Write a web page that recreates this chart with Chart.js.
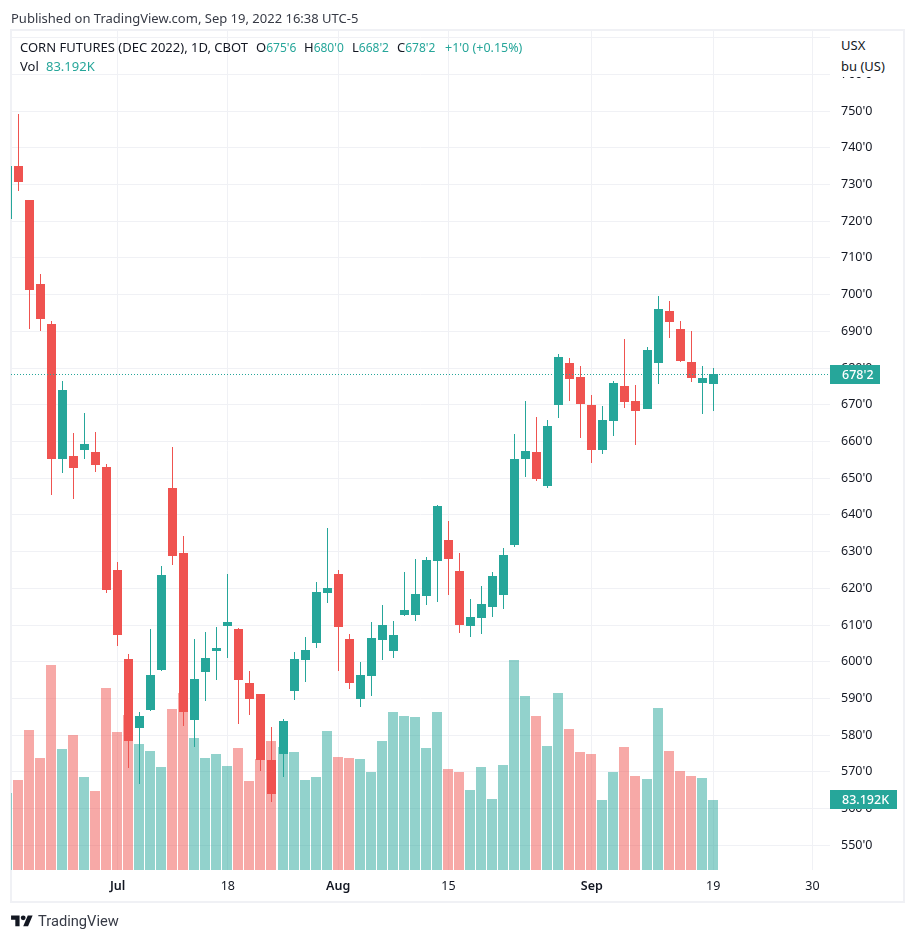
<!DOCTYPE html>
<html>
<head>
<meta charset="utf-8">
<title>CORN FUTURES (DEC 2022)</title>
<script src="https://cdn.jsdelivr.net/npm/chart.js@4/dist/chart.umd.min.js"></script>
<style>
  html, body { margin: 0; padding: 0; background: #fff; }
  #wrap { position: relative; width: 915px; height: 941px; overflow: hidden; font-family: "Noto Sans", sans-serif; color: #131722; }
  #chart { position: absolute; left: 0; top: 0; }
  .t { position: absolute; font-size: 13px; line-height: 18px; white-space: nowrap; }
  .up { color: #26a69a; }
  .val { font-size: 12px; }
  #axisHead { position: absolute; left: 832px; top: 31px; width: 70px; height: 46px; background: #fff; }
  #logoText { position: absolute; left: 38px; top: 909px; font-family: Roboto, sans-serif; font-size: 14.7px; line-height: 24px; color: #363a45; }
</style>
</head>
<body>
<div id="wrap">
  <canvas id="chart" width="915" height="941"></canvas>

  <div class="t" style="left:11px;top:9px;color:#363a45">Published on TradingView.com, Sep 19, 2022 16:38 UTC-5</div>

  <div class="t" style="left:20px;top:38px">CORN FUTURES (DEC 2022), 1D, CBOT</div>
  <div class="t" style="left:256px;top:38px">O<span class="up val">675'6</span></div>
  <div class="t" style="left:304px;top:38px">H<span class="up val">680'0</span></div>
  <div class="t" style="left:352px;top:38px">L<span class="up val">668'2</span></div>
  <div class="t" style="left:397px;top:38px">C<span class="up val">678'2</span></div>
  <div class="t" style="left:445px;top:38px"><span class="up" style="font-size:12.5px">+1'0 (+0.15%)</span></div>
  <div class="t" style="left:20px;top:57px">Vol</div>
  <div class="t up" style="left:46px;top:57px">83.192K</div>

  <div id="axisHead">
    <div class="t" style="left:9px;top:5px">USX</div>
    <div class="t" style="left:9px;top:26px">bu (US)</div>
  </div>

  <svg style="position:absolute;left:11px;top:913px" width="22" height="17" viewBox="0 0 36 28" fill="#131722">
    <path d="M14 22H7V11H0V4h14v18zM28 22h-8l7.5-18h8L28 22z"></path>
    <circle cx="20" cy="8" r="4"></circle>
  </svg>
  <div id="logoText">TradingView</div>
</div>

<script>
/* =============================================
   DATA (first entry is the clipped candle at the left edge)
   ============================================= */
const opens = [720.7, 735.0, 725.8, 702.9, 692.0, 655.2, 656.0, 657.7, 657.1, 653.0, 625.0, 600.7, 581.9, 586.9, 597.7, 647.3,
  629.6, 584.1, 597.2, 602.9, 609.7, 608.9, 594.2, 591.2, 573.2, 574.9, 592.0, 600.5, 605.1, 618.7, 623.9, 606.2,
  589.8, 596.1, 605.9, 602.9, 612.7, 612.7, 617.9, 627.4, 633.2, 624.7, 609.7, 611.9, 614.9, 618.2, 631.8, 655.2,
  657.1, 647.9, 669.9, 681.4, 677.6, 669.9, 657.7, 665.6, 675.1, 671.0, 668.8, 681.4, 695.5, 690.6, 681.6, 675.9, 675.75];
const highs = [735.0, 749.2, 725.8, 705.6, 692.8, 676.5, 662.3, 667.7, 662.6, 653.9, 627.2, 602.1, 586.3, 608.9, 626.1, 658.5,
  634.2, 606.2, 608.1, 609.5, 623.9, 609.2, 597.5, 591.2, 582.2, 584.4, 602.6, 606.7, 621.7, 636.4, 625.0, 607.6,
  599.9, 610.8, 615.4, 611.1, 624.4, 628.0, 628.5, 642.7, 638.3, 629.6, 617.1, 620.6, 624.4, 631.0, 662.0, 671.0,
  666.7, 665.8, 683.8, 682.7, 680.5, 672.6, 669.6, 676.5, 687.9, 675.4, 685.7, 699.6, 698.2, 692.8, 690.1, 680.5, 680.0];
const lows = [720.7, 728.3, 690.6, 690.2, 645.4, 651.5, 644.4, 655.2, 651.7, 618.7, 604.3, 571.0, 566.7, 586.6, 597.5, 626.3,
  582.5, 576.8, 589.3, 595.0, 601.0, 583.0, 585.5, 570.2, 561.8, 568.6, 589.6, 594.5, 603.7, 616.0, 597.5, 592.6,
  587.7, 590.7, 600.5, 601.0, 612.5, 611.1, 615.4, 616.3, 618.2, 607.8, 606.7, 607.6, 612.2, 614.4, 631.3, 650.3,
  649.2, 647.3, 666.4, 671.0, 660.9, 654.1, 656.6, 661.5, 669.1, 659.0, 668.8, 675.6, 688.2, 681.6, 676.2, 667.5, 668.25];
const closes = [735.0, 730.7, 701.3, 693.3, 655.2, 674.0, 652.8, 659.3, 653.6, 619.6, 607.3, 578.4, 585.2, 596.4, 623.6, 628.8,
  586.3, 595.3, 601.0, 603.7, 610.8, 595.0, 589.8, 573.2, 564.0, 583.9, 600.7, 603.2, 619.0, 620.1, 609.5, 594.2,
  596.4, 606.5, 610.0, 607.3, 614.1, 618.4, 627.7, 642.4, 628.0, 610.0, 612.2, 615.7, 623.3, 629.1, 655.2, 657.4,
  649.8, 664.2, 683.0, 677.0, 670.2, 657.7, 665.8, 675.9, 670.7, 668.3, 684.9, 696.1, 692.5, 681.9, 677.3, 677.3, 678.25];
// volume in thousands of contracts
const volumes = [91.2, 107.0, 166.4, 133.1, 243.6, 143.8, 160.4, 110.5, 93.9, 216.3, 164.0, 184.2, 149.8, 141.4, 122.4, 191.3,
  210.4, 156.9, 133.1, 137.9, 123.6, 145.0, 105.8, 131.6, 153.3, 146.2, 140.2, 107.0, 110.5, 165.2, 134.3, 133.1,
  131.9, 116.5, 153.3, 187.8, 183.0, 181.8, 145.0, 187.8, 120.0, 116.5, 95.1, 122.4, 84.4, 124.8, 249.6, 206.8,
  183.0, 147.4, 210.4, 167.6, 140.2, 137.9, 83.2, 116.5, 146.2, 111.7, 108.2, 192.5, 141.4, 117.7, 111.7, 109.3, 83.192];

const xTickValues = [10, 20, 30, 40, 53, 64, 73];
const xTickLabels = ['Jul', '18', 'Aug', '15', 'Sep', '19', '30'];
const xTickBold = ['Jul', 'Aug', 'Sep'];
const yTickValues = [550, 560, 570, 580, 590, 600, 610, 620, 630, 640, 650, 660, 670, 680, 690, 700, 710, 720, 730, 740, 750, 760, 770];

const lastPrice = 678.25;
const lastPriceLabel = "678'2";
const lastVolume = 83.192;
const lastVolumeLabel = '83.192K';

/* =============================================
   COLORS
   ============================================= */
const UP = '#26a69a';
const DOWN = '#ef5350';
const UP_VOL = 'rgba(38,166,154,0.5)';
const DOWN_VOL = 'rgba(239,83,80,0.5)';
const GRID = '#f0f1f5';
const FONT = '"Noto Sans", sans-serif';

const isUp = i => closes[i] >= opens[i];
const candleColors = opens.map((_, i) => isUp(i) ? UP : DOWN);
const volColors = opens.map((_, i) => isUp(i) ? UP_VOL : DOWN_VOL);

/* =============================================
   PLUGINS
   ============================================= */
// frame around the pane, drawn under everything
const framePlugin = {
  id: 'frame',
  beforeDraw(chart) {
    const ctx = chart.ctx;
    ctx.save();
    ctx.strokeStyle = GRID;
    ctx.lineWidth = 2;
    ctx.strokeRect(11, 30, 893, 872);
    ctx.restore();
  }
};

// snap bars to whole pixels so wicks stay 1px sharp
const snapPlugin = {
  id: 'snap',
  afterDatasetsUpdate(chart) {
    chart.data.datasets.forEach((ds, d) => {
      chart.getDatasetMeta(d).data.forEach(el => {
        el.x = ds.isVolume ? Math.floor(el.x) : Math.floor(el.x) + 0.5;
        el.y = Math.round(el.y);
        el.base = Math.round(el.base);
      });
    });
  }
};

function drawTag(ctx, y, right, text, color) {
  const h = 19;
  const top = Math.round(y - h / 2);
  ctx.fillStyle = color;
  ctx.fillRect(830, top, right - 830, h);
  ctx.fillStyle = '#fff';
  ctx.font = '500 12.5px ' + FONT;
  ctx.textAlign = 'left';
  ctx.textBaseline = 'middle';
  ctx.fillText(text, 842, top + h / 2 + 0.5);
}

// last price line and the two tags on the price axis
const lastPricePlugin = {
  id: 'lastPrice',
  afterDraw(chart) {
    const { ctx, chartArea } = chart;
    const y = Math.round(chart.scales.y.getPixelForValue(lastPrice)) + 0.5;
    ctx.save();
    ctx.strokeStyle = UP;
    ctx.lineWidth = 1;
    ctx.setLineDash([1, 2]);
    ctx.beginPath();
    ctx.moveTo(chartArea.left, y);
    ctx.lineTo(chartArea.right, y);
    ctx.stroke();
    ctx.setLineDash([]);
    drawTag(ctx, y, 880, lastPriceLabel, UP);
    drawTag(ctx, chart.scales.vol.getPixelForValue(lastVolume), 897, lastVolumeLabel, UP);
    ctx.restore();
  }
};

/* =============================================
   CHART
   ============================================= */
const xs = opens.map((_, i) => i);

new Chart(document.getElementById('chart'), {
  type: 'bar',
  data: {
    datasets: [
      {
        label: 'Wick',
        data: xs.map(i => ({ x: i, y: [lows[i], highs[i]] })),
        backgroundColor: candleColors,
        barThickness: 1,
        yAxisID: 'y',
        order: 2
      },
      {
        label: 'Body',
        data: xs.map(i => ({ x: i, y: [opens[i], closes[i]] })),
        backgroundColor: candleColors,
        barThickness: 9,
        yAxisID: 'y',
        order: 1
      },
      {
        label: 'Vol',
        isVolume: true,
        data: xs.map(i => ({ x: i, y: volumes[i] })),
        backgroundColor: volColors,
        barThickness: 10,
        yAxisID: 'vol',
        order: 3
      }
    ]
  },
  options: {
    responsive: false,
    animation: false,
    devicePixelRatio: 1,
    layout: { padding: { left: 11, top: 31, right: 10, bottom: 38 } },
    datasets: { bar: { grouped: false, borderWidth: 0, inflateAmount: 0 } },
    plugins: { legend: { display: false }, tooltip: { enabled: false } },
    scales: {
      x: {
        type: 'linear',
        offset: false,
        min: 0.338,
        max: 74.59,
        afterBuildTicks: scale => { scale.ticks = xTickValues.map(v => ({ value: v })); },
        afterFit: scale => { scale.height = 33; },
        grid: { color: GRID, offset: false, drawTicks: false },
        border: { display: false },
        ticks: {
          autoSkip: false,
          maxRotation: 0,
          padding: 9,
          color: '#131722',
          callback: v => xTickLabels[xTickValues.indexOf(v)],
          font: ctx => ({
            family: FONT,
            size: 12.5,
            weight: xTickBold.includes(ctx.tick && ctx.tick.label) ? '600' : '400'
          })
        }
      },
      y: {
        position: 'right',
        min: 543.27,
        max: 771.8,
        afterBuildTicks: scale => { scale.ticks = yTickValues.map(v => ({ value: v })); },
        afterFit: scale => { scale.width = 75; },
        grid: { color: GRID, drawTicks: false },
        border: { display: false },
        ticks: {
          padding: 11,
          color: '#131722',
          font: { family: FONT, size: 12.5 },
          callback: v => v + "'0"
        }
      },
      vol: {
        display: false,
        min: 0,
        max: 997
      }
    }
  },
  plugins: [framePlugin, snapPlugin, lastPricePlugin]
});
</script>
</body>
</html>
